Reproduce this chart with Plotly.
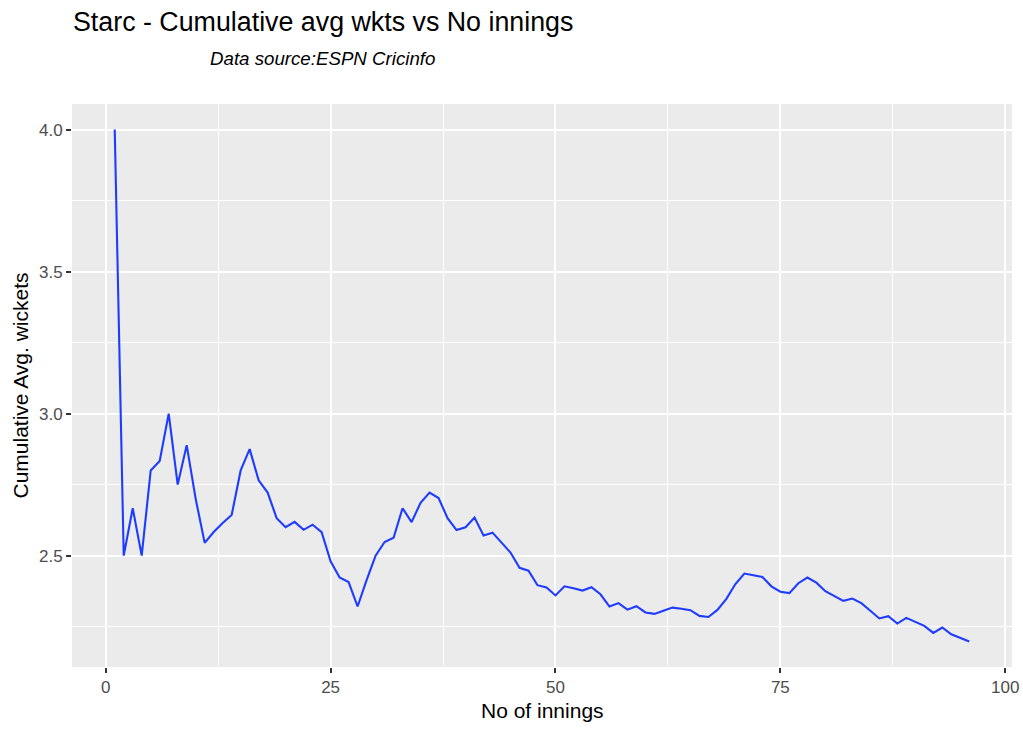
import plotly.graph_objects as go

innings = list(range(1, 97))
cum_avg_wkts = [
    4.000, 2.500, 2.667, 2.500, 2.800, 2.833, 3.000, 2.750, 2.889, 2.700,
    2.545, 2.583, 2.615, 2.643, 2.800, 2.875, 2.765, 2.722, 2.632, 2.600,
    2.619, 2.591, 2.609, 2.583, 2.480, 2.423, 2.407, 2.321, 2.414, 2.500,
    2.548, 2.563, 2.667, 2.618, 2.686, 2.722, 2.703, 2.632, 2.590, 2.600,
    2.634, 2.571, 2.581, 2.545, 2.511, 2.457, 2.447, 2.396, 2.388, 2.360,
    2.392, 2.385, 2.377, 2.389, 2.364, 2.321, 2.333, 2.310, 2.322, 2.300,
    2.295, 2.306, 2.317, 2.313, 2.308, 2.288, 2.284, 2.309, 2.348, 2.400,
    2.437, 2.431, 2.425, 2.392, 2.373, 2.368, 2.403, 2.423, 2.405, 2.375,
    2.358, 2.341, 2.349, 2.333, 2.306, 2.279, 2.287, 2.261, 2.281, 2.267,
    2.253, 2.228, 2.247, 2.223, 2.211, 2.198,
]

title_text = "Starc - Cumulative avg wkts vs No innings"
subtitle_text = "Data source:ESPN Cricinfo"
x_title = "No of innings"
y_title = "Cumulative Avg. wickets"

FONT = "Liberation Sans, Arial, Helvetica, sans-serif"

fig = go.Figure()
fig.add_trace(go.Scatter(
    x=innings, y=cum_avg_wkts, mode="lines",
    line=dict(color="#1E3CFF", width=2.1),
    showlegend=False, hoverinfo="x+y",
))

axis_common = dict(
    showgrid=True, gridcolor="white", gridwidth=2,
    zeroline=False, showline=False, automargin=False,
    ticks="outside", ticklen=5, tickwidth=1.5, tickcolor="#333333",
    tickfont=dict(family=FONT, size=17, color="#4D4D4D"),
)

fig.update_layout(
    width=1023, height=731,
    paper_bgcolor="white", plot_bgcolor="#EBEBEB",
    margin=dict(l=72, r=11, t=104, b=64, autoexpand=False),
    font=dict(family=FONT, color="black"),
    xaxis=dict(
        **axis_common,
        range=[-3.75, 100.75], tick0=0, dtick=25,
        minor=dict(showgrid=True, gridcolor="white", gridwidth=1, tick0=0, dtick=12.5, ticks=""),
    ),
    yaxis=dict(
        **axis_common,
        range=[2.108, 4.09], tick0=2.5, dtick=0.5, tickformat=".1f",
        minor=dict(showgrid=True, gridcolor="white", gridwidth=1, tick0=2.25, dtick=0.25, ticks=""),
    ),
    annotations=[
        dict(text=title_text, xref="paper", yref="paper", x=0, y=1.1456,
             xanchor="left", yanchor="middle", xshift=-1,
             showarrow=False, font=dict(family=FONT, size=26.8, color="black")),
        dict(text="<i>" + subtitle_text + "</i>", xref="paper", yref="paper",
             x=0.1468, y=1.0817, xanchor="left", yanchor="middle", xshift=-2,
             showarrow=False, font=dict(family=FONT, size=18.7, color="black")),
        dict(text=x_title, xref="paper", yref="paper", x=0.5, y=-0.0764,
             xanchor="center", yanchor="middle",
             showarrow=False, font=dict(family=FONT, size=21, color="black")),
        dict(text=y_title, xref="paper", yref="paper", x=-0.0553, y=0.5,
             xanchor="center", yanchor="middle", textangle=-90,
             showarrow=False, font=dict(family=FONT, size=21, color="black")),
    ],
)

fig.write_html(
    "out.html",
    config={"displayModeBar": False},
    post_script="document.body.style.margin='0';document.body.style.padding='0';",
)
